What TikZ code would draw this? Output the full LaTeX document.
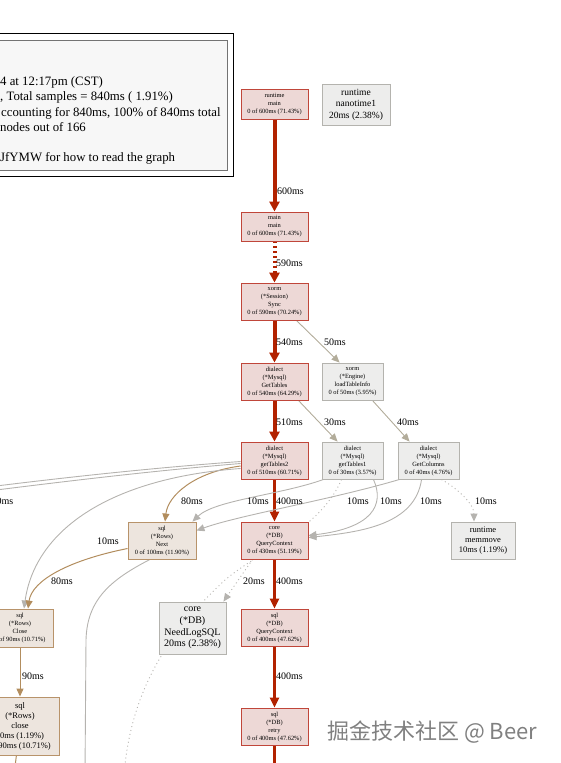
\documentclass[tikz,border=0pt]{standalone}
\usepackage{fontspec}
\setmainfont{Liberation Serif}
\newfontfamily\cjk{Noto Sans CJK SC}
\usetikzlibrary{arrows.meta,calc}
\pgfdeclarelayer{bg}\pgfsetlayers{bg,main}
\definecolor{fred}{HTML}{EDD8D6}
\definecolor{dred}{HTML}{C0463A}
\definecolor{ered}{HTML}{B22200}
\definecolor{fgray}{HTML}{EDEDEC}
\definecolor{dgray}{HTML}{B4B3AE}
\definecolor{egray}{HTML}{B5B3AF}
\definecolor{etan}{HTML}{B28D5E}
\definecolor{ftan}{HTML}{EDE5DE}
\definecolor{dtan}{HTML}{B8936A}
\definecolor{egt}{HTML}{B2AC9A}
\tikzset{
  box/.style={rectangle, inner sep=0pt, align=center, line width=0.9pt, font=\fontsize{6.4}{8}\selectfont},
  rbox/.style={box, draw=dred, fill=fred, minimum width=67pt, minimum height=37pt},
  gbox/.style={box, draw=dgray, fill=fgray, minimum width=61pt, minimum height=37pt},
  tbox/.style={box, draw=dtan, fill=ftan, minimum width=68pt, minimum height=37pt},
  lbl/.style={anchor=base west, font=\fontsize{10}{12}\selectfont, inner sep=0pt},
  leg/.style={anchor=base west, font=\fontsize{12.8}{15}\selectfont, inner sep=0pt},
  hot/.style={draw=ered, line width=4pt, -{Triangle[length=10pt,width=10pt]}},
  hotb/.style={draw=ered, line width=3pt, -{Triangle[length=10pt,width=9pt]}},
  gedge/.style={draw=egray, line width=0.9pt, -{Triangle[length=8pt,width=7pt]}},
  gtedge/.style={draw=egt, line width=0.9pt, -{Triangle[length=8pt,width=7pt]}},
  tedge/.style={draw=etan, line width=1pt, -{Triangle[length=8pt,width=7pt]}},
  dedge/.style={draw=egray, line width=0.9pt, dash pattern=on 1pt off 3pt, -{Triangle[length=8pt,width=7pt]}},
}
\begin{document}
\begin{tikzpicture}[x=1pt,y=-1pt]
\useasboundingbox (0,0) rectangle (561,763);
\clip (0,0) rectangle (561,763);

% legend
\draw[black, line width=0.8pt] (-20,33) rectangle (233,176);
\draw[black!55, fill=black!3, line width=0.8pt] (-20,40) rectangle (227,170);
\node[leg] (l1) at (0,85.5) {4 at 12:17pm (CST)};
\node[leg] (l2) at (0,100.5) {, Total samples = 840ms ( 1.91\%)};
\node[leg] (l3) at (1,116.5) {ccounting for 840ms, 100\% of 840ms total};
\node[leg] (l4) at (0,131.5) {nodes out of 166};
\node[leg] (l5) at (0,161.5) {JfYMW for how to read the graph};

% nodes
\node[rbox, minimum height=30pt] (rm) at (274.5,104) {runtime\\main\\0 of 600ms (71.43\%)};
\node[gbox, minimum width=68pt, minimum height=41pt, font=\fontsize{9.5}{11.5}\selectfont] (nano) at (356,104.5) {runtime\\nanotime1\\20ms (2.38\%)};
\node[rbox, minimum height=29pt] (mm) at (274.5,226.5) {main\\main\\0 of 600ms (71.43\%)};
\node[rbox] (sync) at (274.5,301.5) {xorm\\(*Session)\\Sync\\0 of 590ms (70.24\%)};
\node[rbox] (gett) at (274.5,381.5) {dialect\\(*Mysql)\\GetTables\\0 of 540ms (64.29\%)};
\node[gbox] (load) at (352.5,381.5) {xorm\\(*Engine)\\loadTableInfo\\0 of 50ms (5.95\%)};
\node[rbox] (gt2) at (274.5,460.5) {dialect\\(*Mysql)\\getTables2\\0 of 510ms (60.71\%)};
\node[gbox] (gt1) at (352.5,460.5) {dialect\\(*Mysql)\\getTables1\\0 of 30ms (3.57\%)};
\node[gbox] (gcol) at (428.5,460.5) {dialect\\(*Mysql)\\GetColumns\\0 of 40ms (4.76\%)};
\node[gbox, minimum width=64pt, font=\fontsize{8.5}{10}\selectfont] (memm) at (483,540.5) {runtime\\memmove\\10ms (1.19\%)};
\node[tbox] (next) at (162,540.5) {sql\\(*Rows)\\Next\\0 of 100ms (11.90\%)};
\node[rbox] (cqc) at (274.5,540.5) {core\\(*DB)\\QueryContext\\0 of 430ms (51.19\%)};
\node[gbox, minimum width=67pt, minimum height=52pt, font=\fontsize{10}{11.7}\selectfont] (nls) at (192.5,628) {core\\(*DB)\\NeedLogSQL\\20ms (2.38\%)};
\node[rbox] (sqc) at (274.5,627.5) {sql\\(*DB)\\QueryContext\\0 of 400ms (47.62\%)};
\node[rbox] (retry) at (274.5,726.5) {sql\\(*DB)\\retry\\0 of 400ms (47.62\%)};
\node[tbox, minimum width=66pt, minimum height=38pt] (close1) at (20,628) {sql\\(*Rows)\\Close\\0 of 90ms (10.71\%)};
\node[tbox, minimum width=78pt, minimum height=58pt, font=\fontsize{8.5}{10}\selectfont] (close2) at (20,726) {sql\\(*Rows)\\close\\10ms (1.19\%)\\of 90ms (10.71\%)};

\coordinate (offA) at (-20,488);
\coordinate (offB) at (-20,492);
\coordinate (offC) at (124,775);
\coordinate (offD) at (85,775);
\coordinate (offE) at (274.5,775);
\coordinate (offF) at (14,775);

\begin{pgfonlayer}{bg}
\draw[hot] (rm) -- (mm);
\draw[hot, dash pattern=on 2pt off 3pt] (mm) -- (sync);
\draw[hot] (sync) -- (gett);
\draw[hot] (gett) -- (gt2);
\draw[hotb] (gt2) -- (cqc);
\draw[hotb] (cqc) -- (sqc);
\draw[hotb] (sqc) -- (retry);
\draw[draw=ered, line width=3pt] (retry) -- (offE);

\draw[gtedge] ($(sync.south east)+(-12,0)$) -- ($(load.north west)+(18,0)$);
\draw[gtedge] ($(gett.south east)+(-10,0)$) -- ($(gt1.north west)+(16,0)$);
\draw[gtedge] ($(load.south east)+(-11,0)$) -- ($(gcol.north west)+(12,0)$);

\draw[tedge] ($(gt2.west)+(0,5.5)$) .. controls (195,472) and (168,495) .. ($(next.north)+(3,0)$);
\draw[gedge] ($(gt2.west)+(0,8)$) .. controls (110,478) and (35,530) .. ($(close1.north)+(4,0)$);
\draw[draw=egray, line width=0.9pt] ($(gt2.west)+(0,1)$) .. controls (150,468) and (60,478) .. (offA);
\draw[draw=egray, line width=0.9pt] ($(gt2.west)+(0,3)$) .. controls (150,471) and (60,482) .. (offB);
\draw[tedge] ($(next.west)+(0,8)$) .. controls (70,560) and (32,580) .. ($(close1.north)+(8,0)$);
\draw[gedge] ($(gt1.south west)+(2,0)$) .. controls (280,495) and (215,500) .. ($(next.north east)+(-4,0)$);
\draw[gedge] ($(gcol.south west)+(2,0)$) .. controls (330,500) and (240,515) .. ($(next.east)+(0,-10)$);
\draw[gedge] ($(gt1.south east)+(-10,0)$) .. controls (385,505) and (372,528) .. ($(cqc.east)+(0,-5)$);
\draw[gedge] ($(gcol.south west)+(24,0)$) .. controls (415,525) and (360,532) .. ($(cqc.east)+(0,-3)$);
\draw[dedge] ($(gcol.south east)+(-18,0)$) .. controls (460,490) and (474,505) .. ($(memm.north)+(-9,0)$);
\draw[dedge] ($(cqc.south west)+(12,0)$) -- ($(nls.north east)+(-3,0)$);
\draw[draw=egray, line width=0.9pt, dash pattern=on 1pt off 3pt] ($(gt1.south west)+(20,0)$) .. controls (320,530) and (260,550) .. (225,580) .. controls (160,640) and (130,700) .. (offC);
\draw[draw=egray, line width=0.9pt] ($(next.south)+(-12,0)$) .. controls (110,580) and (87,600) .. (86,640) -- (offD);
\draw[tedge] (close1) -- (close2);
\draw[draw=etan, line width=1pt] (close2) -- (offF);
\end{pgfonlayer}

% edge labels
\node[lbl] (e1) at (277,194) {600ms};
\node[lbl] (e2) at (276,266) {590ms};
\node[lbl] (e3) at (276,345) {540ms};
\node[lbl] (e4) at (324,345) {50ms};
\node[lbl] (e5) at (276,425) {510ms};
\node[lbl] (e6) at (324,425) {30ms};
\node[lbl] (e7) at (397,425) {40ms};
\node[lbl, anchor=base east] (e8) at (13.5,504) {10ms};
\node[lbl] (e9) at (181,504) {80ms};
\node[lbl] (e10) at (247,504) {10ms};
\node[lbl] (e11) at (276,504) {400ms};
\node[lbl] (e12) at (347,504) {10ms};
\node[lbl] (e13) at (380,504) {10ms};
\node[lbl] (e14) at (420,504) {10ms};
\node[lbl] (e15) at (475,504) {10ms};
\node[lbl] (e16) at (97,544) {10ms};
\node[lbl] (e17) at (51,584) {80ms};
\node[lbl] (e18) at (243,584) {20ms};
\node[lbl] (e19) at (276,584) {400ms};
\node[lbl] (e20) at (276,679) {400ms};
\node[lbl] (e21) at (22,679) {90ms};

% watermark
\node[anchor=base west, inner sep=0pt, text=black!50, font=\cjk\fontsize{22}{24}\selectfont] (wm) at (327,739) {掘金技术社区 @ Beer};
\end{tikzpicture}
\end{document}
